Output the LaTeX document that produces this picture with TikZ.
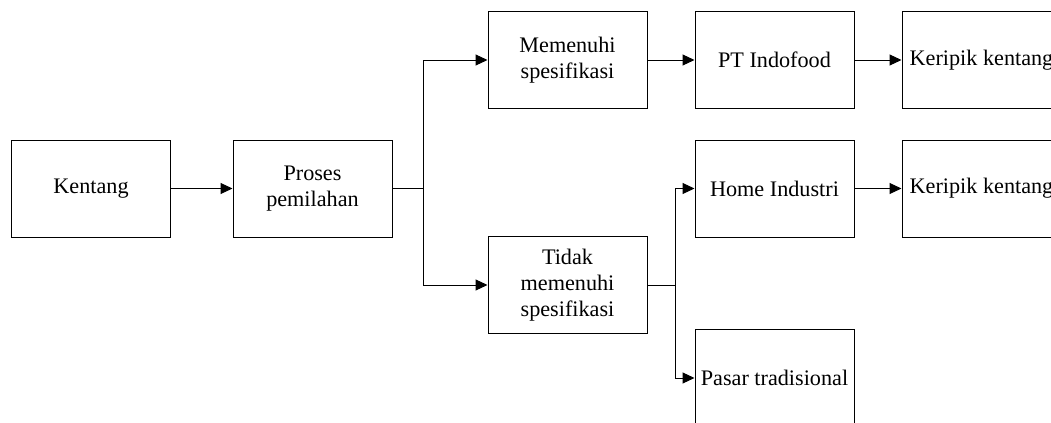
\documentclass[tikz,border=0pt]{standalone}
\usepackage{fontspec}
\setmainfont{Liberation Serif}
\usetikzlibrary{arrows.meta,positioning}

\begin{document}
\begin{tikzpicture}[x=.5pt,y=-.5pt,line cap=butt,line join=miter,
  box/.style={draw=black,line width=.5pt,fill=white,minimum width=79.5pt,
    minimum height=48.5pt,inner sep=1pt,align=center,
    font=\fontsize{11.1}{13}\selectfont},
  link/.style={draw=black,line width=.5pt},
  flow/.style={link,-{Triangle[length=6pt,width=5.5pt]}}]
\clip(0,0) rectangle (1051,423);
% Sorting stage.
\node[box](kentang) at (91,188.5) {Kentang};
\node[box](proses) at (312.5,188.5) {Proses\\pemilahan};
\node[box](memenuhi) at (567.5,60) {Memenuhi\\spesifikasi};
\node[box](tidak) at (567.5,285) {Tidak\\memenuhi\\spesifikasi};
% Buyers and products.
\node[box](indofood) at (774.5,60) {PT Indofood};
\node[box](keripikA) at (981.5,60) {Keripik kentang};
\node[box](home) at (774.5,188.5) {Home Industri};
\node[box](keripikB) at (981.5,188.5) {Keripik kentang};
\node[box](pasar) at (774.5,378) {Pasar tradisional};
\coordinate (split) at (423,188.5);
\coordinate (split2) at (675,285);
\draw[flow](kentang)--(proses);
\draw[link](proses)--(split);
\draw[flow](split)|-(memenuhi);
\draw[flow](split)|-(tidak);
\draw[flow](memenuhi)--(indofood);
\draw[flow](indofood)--(keripikA);
\draw[link](tidak)--(split2);
\draw[flow](split2)|-(home);
\draw[flow](split2)|-(pasar);
\draw[flow](home)--(keripikB);
\end{tikzpicture}
\end{document}
